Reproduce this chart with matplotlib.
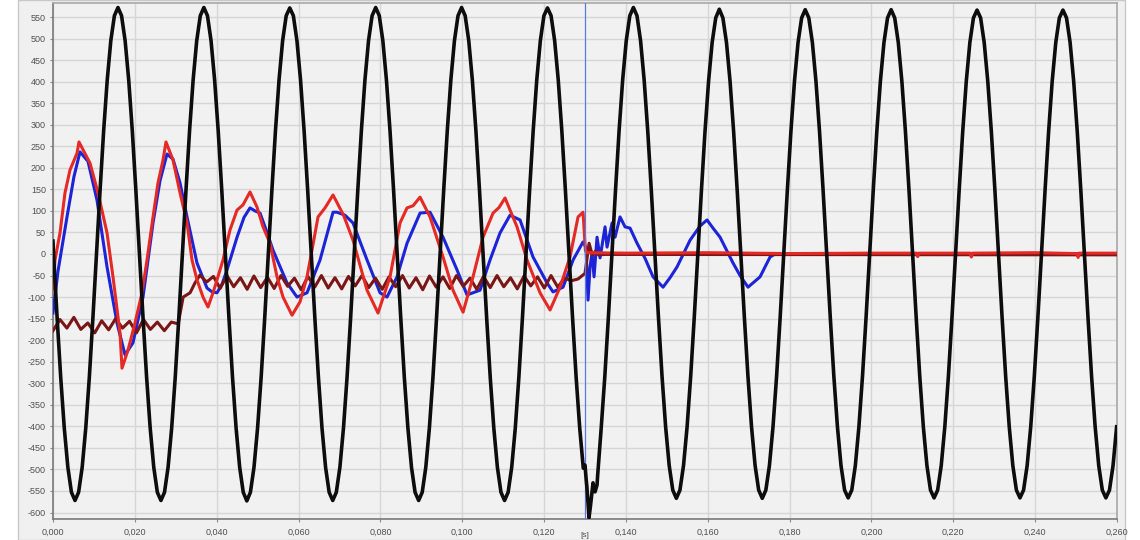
import numpy as np
import matplotlib
matplotlib.use("Agg")
import matplotlib.pyplot as plt
from matplotlib.ticker import FuncFormatter
from matplotlib.patches import Rectangle

# ---------------- data ----------------
# black voltage: samples every black_dt seconds starting at black_t0
black_t0 = 0.000132
black_dt = 0.00087467
black_v = [
    0, -148, -286, -404, -495, -553, -572, -553, -495, -404, -286, -148, 0, 148, 286, 404, 495, 553, 572, 553, 495, 404, 286, 148,
    0, -148, -286, -404, -495, -553, -572, -553, -495, -404, -286, -148, 0, 148, 286, 404, 495, 553, 572, 553, 495, 404, 286, 148,
    0, -148, -286, -404, -495, -553, -573, -553, -495, -404, -286, -148, 0, 148, 286, 404, 495, 553, 571, 553, 495, 404, 286, 148,
    0, -148, -286, -404, -495, -553, -572, -553, -495, -404, -286, -148, 0, 148, 286, 404, 495, 553, 572, 553, 495, 404, 286, 148,
    0, -148, -286, -404, -495, -553, -572, -553, -495, -404, -286, -148, 0, 148, 286, 404, 495, 553, 572, 553, 495, 404, 286, 148,
    0, -148, -286, -404, -495, -553, -572, -553, -495, -404, -286, -148, 0, 148, 286, 404, 495, 553, 571, 553, 495, 404, 286, 148,
    0, -148, -286, -404, -497, -540, -585, -545, -515, -404, -286, -148, 0, 148, 286, 404, 495, 553, 572, 553, 495, 404, 286, 148,
    0, -147, -284, -401, -491, -548, -567, -548, -491, -401, -284, -147, 0, 147, 284, 401, 491, 548, 568, 548, 491, 401, 284, 147,
    0, -147, -284, -401, -491, -548, -567, -548, -491, -401, -284, -147, 0, 147, 284, 401, 491, 548, 567, 548, 491, 401, 284, 147,
    0, -147, -284, -401, -491, -548, -566, -548, -491, -401, -284, -147, 0, 147, 284, 401, 491, 548, 567, 548, 491, 401, 284, 147,
    0, -147, -284, -401, -491, -548, -566, -548, -491, -401, -284, -147, 0, 147, 284, 401, 491, 548, 566, 548, 491, 401, 284, 147,
    0, -147, -284, -401, -491, -548, -566, -548, -491, -401, -284, -147, 0, 147, 284, 401, 491, 548, 566, 548, 491, 401, 284, 147,
    0, -147, -284, -401, -491, -548, -566, -548, -491, -401,
]
# extra black points (start and the fault distortion)
black_extra_t = [0.0, 0.1300, 0.1303, 0.13098, 0.13196, 0.13245, 0.13294]
black_extra_v = [30, -490, -525, -612, -531, -552, -536]

red_t = [0.0, 0.00049, 0.00171, 0.00293, 0.00415, 0.00587, 0.00635, 0.00904, 0.01100, 0.01320,
         0.01466, 0.01637, 0.01686, 0.01833, 0.02004, 0.02175, 0.02297, 0.02444, 0.02566, 0.02688,
         0.02761, 0.02933, 0.03104, 0.03275, 0.03397, 0.03519, 0.03666, 0.03788, 0.03910, 0.04008,
         0.04154, 0.04326, 0.04497, 0.04643, 0.04814, 0.04985, 0.05132, 0.05303, 0.05474, 0.05621,
         0.05841, 0.06036, 0.06207, 0.06329, 0.06476, 0.06647, 0.06843, 0.07100, 0.07331, 0.07674,
         0.07942, 0.08236, 0.08480, 0.08651, 0.08800, 0.08969, 0.09213, 0.09531, 0.09775, 0.10020,
         0.10264, 0.10508, 0.10753, 0.10900, 0.11046, 0.11339, 0.11584, 0.11901, 0.12146, 0.12390,
         0.12634, 0.12830, 0.12952, 0.13010, 0.13050, 0.1400, 0.1600, 0.1800, 0.2000, 0.2110,
         0.2113, 0.2116, 0.2241, 0.2244, 0.2247, 0.2400, 0.2502, 0.2505, 0.2508, 0.2600]
red_v = [-80, -14, 49, 142, 195, 234, 260, 211, 142, 49,
         -53, -183, -265, -223, -160, -90, -14, 86, 165, 218,
         260, 218, 142, 72, -14, -60, -100, -123, -90, -60,
         -14, 56, 102, 114, 144, 109, 63, 25, -53, -100,
         -142, -111, -53, 9, 86, 107, 137, 90, 32, -84,
         -137, -53, 72, 107, 112, 132, 86, -7, -84, -135,
         -53, 39, 95, 108, 130, 63, -14, -90, -130, -77,
         -7, 86, 97, 8, 3, 2, 3, 1, 2, 2,
         -6, 2, 2, -7, 2, 3, 1, -8, 2, 2]

blue_t = [0.0, 0.00122, 0.00342, 0.00513, 0.00660, 0.00855, 0.01075, 0.01320, 0.01564, 0.01760,
          0.01955, 0.02199, 0.02444, 0.02615, 0.02786, 0.02933, 0.03104, 0.03275, 0.03519, 0.03763,
          0.03886, 0.04008, 0.04130, 0.04252, 0.04497, 0.04668, 0.04814, 0.04936, 0.05059, 0.05230,
          0.05376, 0.05718, 0.05963, 0.06207, 0.06525, 0.06843, 0.06940, 0.07136, 0.07331, 0.07674,
          0.07991, 0.08162, 0.08407, 0.08651, 0.08969, 0.09213, 0.09531, 0.09873, 0.10117, 0.10435,
          0.10679, 0.10924, 0.11168, 0.11413, 0.11730, 0.12072, 0.12219, 0.12463, 0.12708, 0.12952,
          0.13025, 0.13074, 0.13123, 0.13172, 0.13221, 0.13294, 0.13368, 0.13490, 0.13539, 0.13661,
          0.13734, 0.13856, 0.13978, 0.14101, 0.14272, 0.14467, 0.14663, 0.14907, 0.15078, 0.15249,
          0.15567, 0.15811, 0.15982, 0.16129, 0.16300, 0.16618, 0.16789, 0.16984, 0.17278, 0.17522,
          0.17644, 0.2000, 0.2600]
blue_v = [-137, -40, 86, 180, 237, 215, 125, -30, -160, -234,
          -206, -100, 72, 170, 232, 220, 165, 86, -21, -79,
          -88, -90, -70, -37, 39, 85, 107, 100, 95, 50,
          9, -67, -100, -90, -14, 97, 97, 90, 72, -14,
          -90, -100, -53, 25, 95, 97, 39, -37, -95, -84,
          -14, 49, 90, 79, -7, -67, -88, -77, -14, 28,
          15, -107, -30, 2, -53, 39, -9, 63, 16, 72,
          39, 86, 63, 60, 25, -10, -53, -77, -55, -30,
          32, 65, 79, 60, 39, -21, -50, -77, -53, -7,
          0, 1, 1]

# maroon: ripple segments sampled every maroon_dt1 / maroon_dt2 seconds
maroon_t1_start, maroon_dt1 = 0.0, 0.0017
maroon_v1 = [-178, -152, -172, -147, -175, -160, -183, -155, -176, -150,
             -172, -156, -183, -152, -175, -158, -178, -158, -162]
maroon_tr_t = [0.0318, 0.0335, 0.0347]
maroon_tr_v = [-100, -90, -67]
maroon_t2_start, maroon_dt2 = 0.0359, 0.00165
maroon_v2 = [-49, -65, -52, -80, -50, -76, -55, -82, -51, -78,
             -54, -80, -50, -75, -56, -83, -52, -77, -50, -79,
             -55, -81, -52, -74, -50, -78, -56, -82, -53, -76,
             -50, -79, -55, -83, -51, -77, -53, -80, -50, -75,
             -56, -82, -52, -78, -50, -76, -55, -81, -51, -74,
             -53, -79, -50, -77, -56, -62, -58]
maroon_end_t = [0.1300, 0.1310, 0.1318, 0.1325, 0.1333, 0.1350, 0.2600]
maroon_end_v = [-45, 25, -3, 6, -2, -1, -2]

cursor_t = 0.1301
x_ticks = [0.000, 0.020, 0.040, 0.060, 0.080, 0.100, 0.120, 0.140, 0.160, 0.180, 0.200, 0.220, 0.240, 0.260]
y_ticks = list(range(-600, 551, 50))

# ---------------- assemble series ----------------
bt = black_t0 + black_dt * np.arange(len(black_v))
bt = np.concatenate([bt, black_extra_t])
bv = np.concatenate([np.array(black_v, float), black_extra_v])
o = np.argsort(bt)
bt, bv = bt[o], bv[o]

mt = np.concatenate([
    maroon_t1_start + maroon_dt1 * np.arange(len(maroon_v1)),
    maroon_tr_t,
    maroon_t2_start + maroon_dt2 * np.arange(len(maroon_v2)),
    maroon_end_t,
])
mv = np.concatenate([maroon_v1, maroon_tr_v, maroon_v2, maroon_end_v])

# ---------------- figure ----------------
plt.rcParams['font.family'] = ['Liberation Sans', 'DejaVu Sans']
fig = plt.figure(figsize=(11.4, 5.4), dpi=100, facecolor='white')
fig.patches.append(Rectangle((18 / 1140, 0), (1125 - 18) / 1140, 1, transform=fig.transFigure,
                             facecolor='#f0f0f0', edgecolor='#c8c8c8', lw=1.0, zorder=-10))
ax = fig.add_axes([53 / 1140, 21 / 540, (1117 - 53) / 1140, (519 - 3) / 540])
ax.set_facecolor('#f1f1f1')

ax.plot(blue_t, blue_v, color='#1c24d8', lw=2.2, zorder=3, solid_joinstyle='round')
ax.plot(mt, mv, color='#7a1616', lw=2.2, zorder=4, solid_joinstyle='round')
ax.plot(red_t, red_v, color='#e52a26', lw=2.2, zorder=5, solid_joinstyle='round')
ax.axvline(cursor_t, color='#5a78e0', lw=0.9, zorder=6)
ax.plot(bt, bv, color='#0d0d0d', lw=2.6, zorder=7, solid_joinstyle='round')

ax.set_xlim(0, 0.26)
ax.set_ylim(-615, 582.5)
ax.set_xticks(x_ticks)
ax.set_yticks(y_ticks)
ax.xaxis.set_major_formatter(FuncFormatter(lambda v, p: f"{v:.3f}".replace('.', ',')))
ax.yaxis.set_major_formatter(FuncFormatter(lambda v, p: f"{int(round(v))}"))
ax.tick_params(axis='both', labelsize=6.5, colors='#8a8a8a', labelcolor='#505050', length=2, width=0.8)
ax.tick_params(axis='y', pad=3)
ax.tick_params(axis='x', pad=4)
ax.grid(True, color='#d6d6d6', lw=1.0, zorder=0)
ax.set_axisbelow(True)
for s in ['left', 'bottom']:
    ax.spines[s].set_color('#7a7a7a')
    ax.spines[s].set_linewidth(1.2)
for s in ['top', 'right']:
    ax.spines[s].set_color('#a8a8a8')
    ax.spines[s].set_linewidth(1.2)

fig.text(585 / 1140, 1 / 540, "[s]", ha='center', va='bottom', fontsize=6, color='#505050')

fig.savefig("out.png", dpi=100, facecolor=fig.get_facecolor())
